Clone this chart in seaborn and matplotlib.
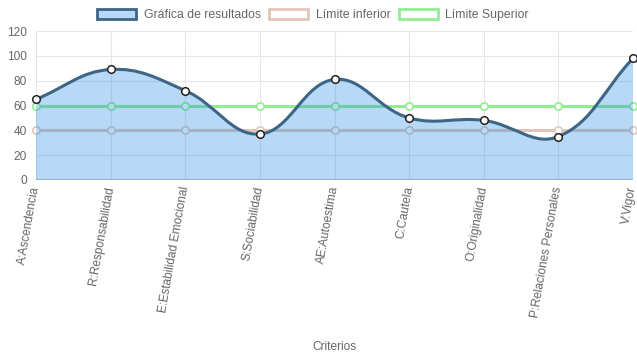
import numpy as np
import pandas as pd
import matplotlib
matplotlib.use('Agg')
import matplotlib.pyplot as plt
from matplotlib.path import Path
from matplotlib.patches import PathPatch, Patch
import seaborn as sns

criterios = ['A:Ascendencia', 'R:Responsabilidad', 'E:Estabilidad Emocional',
             'S:Sociabilidad', 'AE:Autoestima', 'C:Cautela', 'O:Originalidad',
             'P:Relaciones Personales', 'V:Vigor']
resultados = [65, 89, 72, 37, 81, 50, 48, 35, 98]
limite_inferior = [40, 40, 40, 40, 40, 40, 40, 40, 40]
limite_superior = [60, 60, 60, 60, 60, 60, 60, 60, 60]
y_ticks = [0, 20, 40, 60, 80, 100, 120]

LINE_COL = '#3d6585'
FILL_COL = (40 / 255, 140 / 255, 225 / 255, 0.33)
LOW_COL = '#e3c5b8'
UP_COL = '#90ee90'
TEXT_COL = '#666666'
GRID_COL = '#e6e6e6'

sns.set_style('white')
plt.rcParams['font.family'] = ['Liberation Sans', 'DejaVu Sans']

W, H = 637, 359
fig = plt.figure(figsize=(W / 100, H / 100), dpi=100)
left, right, top, bottom = 36, 633, 31, 180
ax = fig.add_axes([left / W, 1 - bottom / H, (right - left) / W, (bottom - top) / H])

n = len(criterios)
xs = np.arange(n)
ax.set_xlim(0, n - 1)
ax.set_ylim(y_ticks[0], y_ticks[-1])

df = pd.DataFrame({'x': xs, 'res': resultados, 'low': limite_inferior, 'up': limite_superior})

# limit lines go under the result fill (Chart.js draws dataset 0 on top)
sns.lineplot(data=df, x='x', y='low', color=LOW_COL, lw=2.2, ax=ax, zorder=2)
sns.lineplot(data=df, x='x', y='up', color=UP_COL, lw=2.2, ax=ax, zorder=2)
for col, c in [('low', LOW_COL), ('up', UP_COL)]:
    sns.scatterplot(data=df, x='x', y=col, s=28, facecolor='white', edgecolor=c,
                    linewidth=1.2, ax=ax, zorder=3, clip_on=False)


# smooth curve like Chart.js (bezier, tension 0.4) computed in pixel space
def spline_verts(xv, yv, tension=0.4):
    sx = (right - left) / (n - 1)
    sy = (bottom - top) / (y_ticks[-1] - y_ticks[0])
    pts = np.column_stack([np.asarray(xv) * sx, np.asarray(yv, float) * sy])
    prev_c, next_c = [], []
    for i in range(len(pts)):
        p0 = pts[i - 1] if i > 0 else pts[i]
        p1 = pts[i]
        p2 = pts[i + 1] if i < len(pts) - 1 else pts[i]
        d01 = np.hypot(*(p1 - p0))
        d12 = np.hypot(*(p2 - p1))
        tot = d01 + d12
        s01 = d01 / tot if tot else 0
        s12 = d12 / tot if tot else 0
        prev_c.append(p1 - tension * s01 * (p2 - p0))
        next_c.append(p1 + tension * s12 * (p2 - p0))
    verts = [pts[0]]
    codes = [Path.MOVETO]
    for i in range(len(pts) - 1):
        verts += [next_c[i], prev_c[i + 1], pts[i + 1]]
        codes += [Path.CURVE4] * 3
    verts = np.array(verts) / [sx, sy]
    verts[:, 1] = np.clip(verts[:, 1], y_ticks[0], y_ticks[-1])
    return verts, codes


verts, codes = spline_verts(xs, resultados)
fill_verts = np.vstack([verts, [[xs[-1], 0], [xs[0], 0], verts[0]]])
fill_codes = codes + [Path.LINETO, Path.LINETO, Path.CLOSEPOLY]
ax.add_patch(PathPatch(Path(fill_verts, fill_codes), facecolor=FILL_COL, edgecolor='none', zorder=4))
ax.add_patch(PathPatch(Path(verts, codes), facecolor='none', edgecolor=LINE_COL, lw=2.2,
                       capstyle='round', zorder=5))
sns.scatterplot(data=df, x='x', y='res', s=30, facecolor='white', edgecolor='#222222',
                linewidth=1.1, ax=ax, zorder=6, clip_on=False)

# grid and axes like Chart.js
for s in ax.spines.values():
    s.set_visible(False)
ax.set_yticks(y_ticks)
ax.set_xticks(xs)
ax.set_xticklabels(criterios, rotation=80, ha='right', va='center', rotation_mode='anchor')
ax.grid(True, color=GRID_COL, lw=0.8, zorder=0)
ax.axhline(0, color='#c8c8c8', lw=1.5, zorder=1)
ax.tick_params(axis='both', width=0.8, color=GRID_COL, labelcolor=TEXT_COL, labelsize=8.6)
ax.tick_params(axis='y', length=6, pad=0.5)
ax.tick_params(axis='x', length=8, pad=-3.5)
ax.set_xlabel('Criterios', color=TEXT_COL, fontsize=8.6)
ax.xaxis.set_label_coords(0.5, (bottom - 347) / (bottom - top))
ax.xaxis.label.set_va('center')
ax.set_ylabel('')

handles = [Patch(facecolor=FILL_COL, edgecolor=LINE_COL, lw=2),
           Patch(facecolor='white', edgecolor=LOW_COL, lw=2),
           Patch(facecolor='white', edgecolor=UP_COL, lw=2)]
fig.legend(handles, ['Gráfica de resultados', 'Límite inferior', 'Límite Superior'],
           loc='center', bbox_to_anchor=(313 / W, 1 - 15 / H), ncol=3, frameon=False,
           fontsize=8.8, labelcolor=TEXT_COL, handlelength=3.2, handleheight=0.9,
           handletextpad=0.6, columnspacing=0.7, borderpad=0)

fig.savefig('out.png', dpi=100)
